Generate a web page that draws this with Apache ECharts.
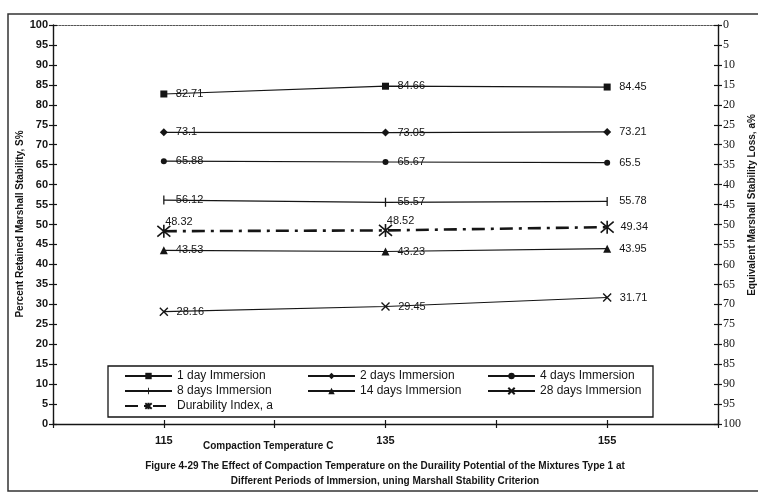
<!DOCTYPE html>
<html>
<head>
<meta charset="utf-8">
<script src="https://cdn.jsdelivr.net/npm/echarts@6/dist/echarts.min.js"></script>
<style>
  html, body { margin: 0; padding: 0; background: #fff; }
  #chart { width: 758px; height: 494px; }
</style>
</head>
<body>
<div id="chart"></div>
<script>
// Compaction temperatures (C)
const temperatures = [115, 135, 155];

// Percent retained Marshall stability for each immersion period
const day1  = [82.71, 84.66, 84.45];
const day2  = [73.1, 73.05, 73.21];
const day4  = [65.88, 65.67, 65.5];
const day8  = [56.12, 55.57, 55.78];
const day14 = [43.53, 43.23, 43.95];
const day28 = [28.16, 29.45, 31.71];
const durability = [48.32, 48.52, 49.34];

const seriesNames = [
  '1 day Immersion', '2 days Immersion', '4 days Immersion',
  '8 days Immersion', '14 days Immersion', '28 days Immersion',
  'Durability Index, a'
];

const INK = '#151515';
const sans = 'Liberation Sans, Arial, sans-serif';
const serif = 'Liberation Serif, Times New Roman, serif';

function pairs(values) {
  return temperatures.map((t, i) => [t, values[i]]);
}

function valueText(v) {
  return String(v);
}

function lineSeries(name, values, symbol, symbolSize, stroked) {
  return {
    name: name,
    type: 'line',
    data: pairs(values),
    symbol: symbol,
    symbolSize: symbolSize,
    showAllSymbol: true,
    animation: false,
    lineStyle: { color: INK, width: 1.2 },
    itemStyle: stroked
      ? { color: 'rgba(0,0,0,0)', borderColor: INK, borderWidth: 1.4 }
      : { color: INK, borderWidth: 0 },
    label: {
      show: true,
      position: 'right',
      distance: Math.max(12 - symbolSize / 2, 2),
      color: INK,
      fontFamily: sans,
      fontSize: 11,
      formatter: p => valueText(p.value[1])
    },
    emphasis: { disabled: true }
  };
}

// Marker outlines (square bounding boxes so they scale evenly)
const xShape = 'path://M0,0L10,10M10,0L0,10';
const starShape = 'path://M0,0L10,10M10,0L0,10M5,-1L5,11';
const barShape = 'path://M4.3,0L5.7,0L5.7,10L4.3,10Z M0,5L0,5Z M10,5L10,5Z';

const series = [
  lineSeries(seriesNames[0], day1, 'rect', 7, false),
  lineSeries(seriesNames[1], day2, 'diamond', 8, false),
  lineSeries(seriesNames[2], day4, 'circle', 6, false),
  lineSeries(seriesNames[3], day8, barShape, 9, false),
  lineSeries(seriesNames[4], day14, 'triangle', 8, false),
  lineSeries(seriesNames[5], day28, xShape, 8, true)
];

// Durability index: heavy dash-dot line with asterisk markers
const durSeries = lineSeries(seriesNames[6], durability, starShape, 13, true);
durSeries.lineStyle = { color: INK, width: 2.6, type: [13, 6, 3, 6] };
durSeries.itemStyle = { color: 'rgba(0,0,0,0)', borderColor: INK, borderWidth: 1.6 };
durSeries.data = pairs(durability).map((d, i) => ({
  value: d,
  label: i < 2
    ? { position: 'right', distance: 0, offset: [-6, -9] }
    : { position: 'right', distance: 6 }
}));
series.push(durSeries);

// Legend layout: three columns, three rows
const legendCols = [124, 307, 487];
const legendRows = [374, 389, 404];
const legends = seriesNames.map((name, i) => {
  const col = i === 6 ? 0 : i % 3;
  const row = i === 6 ? 2 : Math.floor(i / 3);
  return {
    data: [name],
    left: legendCols[col],
    top: legendRows[row] - 4,
    padding: 0,
    itemWidth: 47,
    itemHeight: 8,
    itemGap: 0,
    selectedMode: false,
    textStyle: { color: INK, fontFamily: sans, fontSize: 12 }
  };
});

const tickStyle = { color: INK, width: 1.2 };

const option = {
  backgroundColor: '#fff',
  animation: false,
  grid: { left: 53, right: 40, top: 25, bottom: 70, containLabel: false },
  title: {
    text: 'Figure 4-29 The Effect of Compaction Temperature on the Duraility Potential of the Mixtures Type 1 at\nDifferent Periods of Immersion, uning Marshall Stability Criterion',
    left: 385,
    top: 459,
    textAlign: 'center',
    padding: 0,
    textStyle: { color: INK, fontFamily: sans, fontSize: 10, fontWeight: 'bold', lineHeight: 15 }
  },
  legend: legends,
  xAxis: [
    {
      type: 'value', min: 105, max: 165, interval: 10, position: 'bottom',
      axisLine: { show: true, onZero: false, lineStyle: { color: INK, width: 1.4 } },
      axisTick: { show: true, inside: false, length: 4, lineStyle: tickStyle },
      axisLabel: {
        color: INK, fontFamily: sans, fontSize: 11, fontWeight: 'bold', margin: 11,
        formatter: v => (temperatures.indexOf(v) >= 0 ? String(v) : '')
      },
      splitLine: { show: false }
    },
    {
      type: 'value', min: 105, max: 165, interval: 10, position: 'bottom',
      axisLine: { show: false, onZero: false },
      axisTick: { show: true, inside: true, length: 4, lineStyle: tickStyle },
      axisLabel: { show: false },
      splitLine: { show: false }
    },
    {
      type: 'value', min: 105, max: 165, position: 'top',
      axisLine: { show: true, onZero: false, lineStyle: { color: '#555', width: 1, type: [2, 1] } },
      axisTick: { show: false },
      axisLabel: { show: false },
      splitLine: { show: false }
    }
  ],
  yAxis: [
    {
      type: 'value', min: 0, max: 100, interval: 5, position: 'left',
      axisLine: { show: true, onZero: false, lineStyle: { color: INK, width: 1.4 } },
      axisTick: { show: true, inside: false, length: 4, lineStyle: tickStyle },
      axisLabel: { color: INK, fontFamily: sans, fontSize: 11, fontWeight: 'bold', margin: 5 },
      splitLine: { show: false }
    },
    {
      type: 'value', min: 0, max: 100, interval: 5, position: 'left',
      axisLine: { show: false, onZero: false },
      axisTick: { show: true, inside: true, length: 4, lineStyle: tickStyle },
      axisLabel: { show: false },
      splitLine: { show: false }
    },
    {
      type: 'value', min: 0, max: 100, interval: 5, position: 'right', inverse: true,
      axisLine: { show: true, onZero: false, lineStyle: { color: INK, width: 1.4 } },
      axisTick: { show: true, inside: false, length: 4, lineStyle: tickStyle },
      axisLabel: { color: INK, fontFamily: serif, fontSize: 12, margin: 5 },
      splitLine: { show: false }
    },
    {
      type: 'value', min: 0, max: 100, interval: 5, position: 'right', inverse: true,
      axisLine: { show: false, onZero: false },
      axisTick: { show: true, inside: true, length: 4, lineStyle: tickStyle },
      axisLabel: { show: false },
      splitLine: { show: false }
    }
  ],
  graphic: [
    // outer figure frame
    {
      type: 'rect', silent: true, z: -1,
      shape: { x: 8, y: 14, width: 780, height: 477 },
      style: { fill: 'none', stroke: '#333', lineWidth: 1.5 }
    },
    // legend frame
    {
      type: 'rect', silent: true,
      shape: { x: 108, y: 366, width: 545, height: 51 },
      style: { fill: '#fff', stroke: INK, lineWidth: 1.3 },
      z: 0
    },
    {
      type: 'text', silent: true,
      x: 20, y: 224, rotation: Math.PI / 2,
      style: {
        text: 'Percent Retained Marshall Stability, S%',
        fill: INK, font: 'bold 10px ' + sans,
        align: 'center', verticalAlign: 'middle'
      }
    },
    {
      type: 'text', silent: true,
      x: 752, y: 205, rotation: Math.PI / 2,
      style: {
        text: 'Equivalent Marshall Stability Loss, a%',
        fill: INK, font: 'bold 10px ' + sans,
        align: 'center', verticalAlign: 'middle'
      }
    },
    {
      type: 'text', silent: true,
      x: 203, y: 446,
      style: {
        text: 'Compaction Temperature C',
        fill: INK, font: 'bold 10px ' + sans,
        align: 'left', verticalAlign: 'middle'
      }
    }
  ],
  series: series
};

const chart = echarts.init(document.getElementById('chart'), null, { renderer: 'canvas' });
chart.setOption(option);
</script>
</body>
</html>
